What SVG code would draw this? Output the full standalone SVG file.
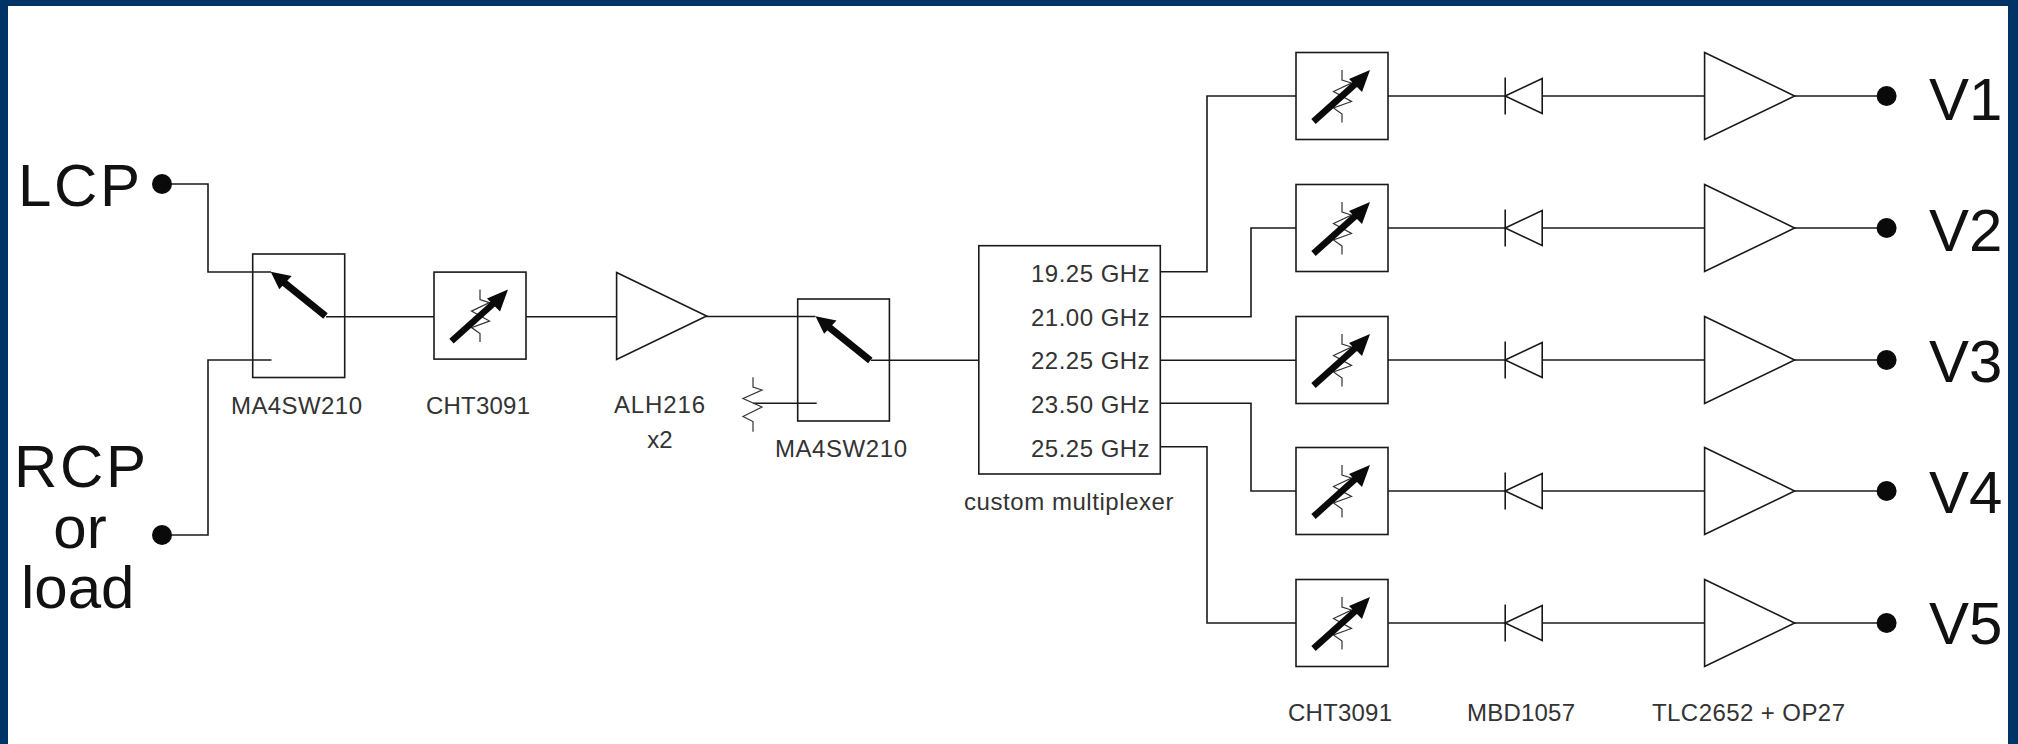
<svg xmlns="http://www.w3.org/2000/svg" width="2018" height="744" viewBox="0 0 2018 744">
<style>
.w{fill:none;stroke:#1a1a1a;stroke-width:1.6}
.b{fill:#fff;stroke:#1a1a1a;stroke-width:1.6}
.f{fill:#0a0a0a;stroke:none}
.a{fill:none;stroke:#0a0a0a;stroke-width:7}
.t{fill:none;stroke:#0a0a0a;stroke-width:6.5}
.z{fill:none;stroke:#333;stroke-width:1.2}
.big{font-family:"Liberation Sans",Arial,sans-serif;font-size:60px;fill:#111}
.sm{font-family:"Liberation Sans",Arial,sans-serif;font-size:24px;fill:#333}
</style>
<defs>
<g id="att">
<rect class="b" x="-46" y="-43.5" width="92" height="87"/>
<polyline class="z" points="0,-26 0,-16 9.5,-13 -8.5,-4.5 9.5,5.5 -8.5,12 0,18 0,26.5"/>
<line class="t" x1="-28.5" y1="25.5" x2="15" y2="-13.5"/>
<polygon class="f" points="28,-26 7,-17 20,-4"/>
</g>
<g id="sw">
<line class="a" x1="325.5" y1="316" x2="284" y2="282.5"/>
<polygon class="f" points="270.7,271.7 279.3,289.3 291.7,276"/>
</g>
<g id="diode">
<line class="w" x1="0" y1="-18.5" x2="0" y2="18.5"/>
<polygon class="b" points="0,0 37,-17.5 37,17.5"/>
</g>
<polygon id="amp" class="b" points="0,-43.5 90,0 0,43.5"/>
</defs>
<rect width="2018" height="744" fill="#003366"/>
<rect x="8" y="6" width="2000" height="738" fill="#fff"/>
<g id="connectors">
<polyline class="w" points="162,184 208,184 208,272 271,272"/>
<polyline class="w" points="162,535 208,535 208,360 271.5,360"/>
<line class="w" x1="326" y1="316.7" x2="434" y2="316.7"/>
<line class="w" x1="526" y1="316.7" x2="617" y2="316.7"/>
<line class="w" x1="706" y1="316.5" x2="815.5" y2="316.5"/>
<line class="w" x1="753" y1="403.3" x2="816.7" y2="403.3"/>
<line class="w" x1="871" y1="360.3" x2="979" y2="360.3"/>
<polyline class="w" points="1160,271.7 1207,271.7 1207,96 1296,96"/>
<polyline class="w" points="1160,316.7 1251,316.7 1251,228 1296,228"/>
<line class="w" x1="1160" y1="360.3" x2="1296" y2="360.3"/>
<polyline class="w" points="1160,403.3 1251,403.3 1251,491 1296,491"/>
<polyline class="w" points="1160,446.7 1207,446.7 1207,623 1296,623"/>
<line class="w" x1="1388" y1="96" x2="1886" y2="96"/>
<line class="w" x1="1388" y1="228" x2="1886" y2="228"/>
<line class="w" x1="1388" y1="360" x2="1886" y2="360"/>
<line class="w" x1="1388" y1="491" x2="1886" y2="491"/>
<line class="w" x1="1388" y1="623" x2="1886" y2="623"/>
</g>
<g id="lcp"><circle class="f" cx="162" cy="184" r="10"/><text class="big" x="18" y="205.7" textLength="122">LCP</text></g>
<g id="rcp"><circle class="f" cx="162" cy="535" r="10"/><text class="big" x="14" y="486.7" textLength="132">RCP</text><text class="big" x="80" y="548" text-anchor="middle">or</text><text class="big" x="21" y="608">load</text></g>
<g id="switch1"><rect class="w" x="252.7" y="254" width="92" height="123.5"/><use href="#sw"/><text class="sm" x="231" y="414" textLength="131">MA4SW210</text></g>
<g id="atten0"><use href="#att" x="480" y="315.6"/><text class="sm" x="426" y="414" textLength="104">CHT3091</text></g>
<g id="amp0"><use href="#amp" x="616.6" y="316"/><text class="sm" x="614" y="413.3" textLength="91">ALH216</text><text class="sm" x="660" y="447.7" text-anchor="middle">x2</text></g>
<g id="load"><polyline class="z" points="753,377.3 753,387 762,390 743,398.5 762,407 743,416.5 753,421.5 753,431.7"/></g>
<g id="switch2"><rect class="w" x="797.7" y="299" width="91.7" height="122"/><use href="#sw" transform="translate(544.8,44.5)"/><text class="sm" x="775" y="456.7" textLength="132">MA4SW210</text></g>
<g id="mux"><rect class="b" x="978.8" y="245.7" width="181.5" height="228.3"/>
<text class="sm" x="1031" y="282.3" textLength="118.6">19.25 GHz</text>
<text class="sm" x="1031" y="325.7" textLength="118.6">21.00 GHz</text>
<text class="sm" x="1031" y="369" textLength="118.6">22.25 GHz</text>
<text class="sm" x="1031" y="413.3" textLength="118.6">23.50 GHz</text>
<text class="sm" x="1031" y="456.7" textLength="118.6">25.25 GHz</text>
<text class="sm" x="964" y="510" textLength="209.5">custom multiplexer</text></g>
<g id="chain1"><use href="#att" x="1342" y="96"/><use href="#diode" x="1505.2" y="96"/><use href="#amp" x="1704.6" y="96"/><circle class="f" cx="1886.6" cy="96" r="10"/><text class="big" x="1929" y="120">V1</text></g>
<g id="chain2"><use href="#att" x="1342" y="228"/><use href="#diode" x="1505.2" y="228"/><use href="#amp" x="1704.6" y="228"/><circle class="f" cx="1886.6" cy="228" r="10"/><text class="big" x="1929" y="251">V2</text></g>
<g id="chain3"><use href="#att" x="1342" y="360"/><use href="#diode" x="1505.2" y="360"/><use href="#amp" x="1704.6" y="360"/><circle class="f" cx="1886.6" cy="360" r="10"/><text class="big" x="1929" y="381.7">V3</text></g>
<g id="chain4"><use href="#att" x="1342" y="491"/><use href="#diode" x="1505.2" y="491"/><use href="#amp" x="1704.6" y="491"/><circle class="f" cx="1886.6" cy="491" r="10"/><text class="big" x="1929" y="513.3">V4</text></g>
<g id="chain5"><use href="#att" x="1342" y="623"/><use href="#diode" x="1505.2" y="623"/><use href="#amp" x="1704.6" y="623"/><circle class="f" cx="1886.6" cy="623" r="10"/><text class="big" x="1929" y="644.3">V5</text></g>
<g id="labels"><text class="sm" x="1288" y="720.7" textLength="104">CHT3091</text><text class="sm" x="1467" y="720.7" textLength="108">MBD1057</text><text class="sm" x="1652" y="720.7" textLength="193">TLC2652 + OP27</text></g>
</svg>
